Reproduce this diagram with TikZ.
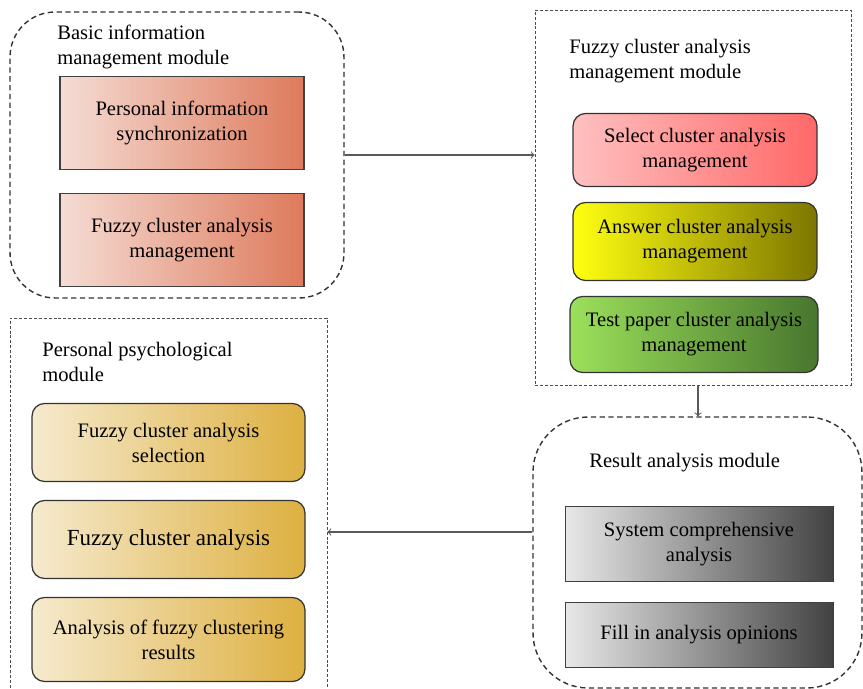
\documentclass[tikz,border=0pt]{standalone}
\usepackage{xcolor}
\usepackage{tikz}
\usepackage{fontspec}
\setmainfont{Liberation Serif}
\usetikzlibrary{shapes.geometric, arrows, calc}

\definecolor{peachL}{RGB}{245,220,212}
\definecolor{peachR}{RGB}{222,122,92}
\definecolor{pinkL}{RGB}{255,192,192}
\definecolor{pinkR}{RGB}{255,104,104}
\definecolor{yelL}{RGB}{255,255,16}
\definecolor{yelR}{RGB}{125,118,0}
\definecolor{grnL}{RGB}{155,224,90}
\definecolor{grnR}{RGB}{72,118,46}
\definecolor{tanL}{RGB}{246,234,206}
\definecolor{tanR}{RGB}{221,176,64}
\definecolor{greyL}{RGB}{232,232,232}
\definecolor{greyR}{RGB}{66,66,66}

\begin{document}
\begin{tikzpicture}[
x=0.02cm, y=-0.02cm,
font=\rmfamily\fontsize{11.7}{14.2}\selectfont,
round module/.style = {draw=black!80, line width=0.8pt, dash pattern=on 3pt off 2pt,
  rounded corners=#1, inner sep=0pt},
square module/.style = {draw=black!70, line width=0.5pt, dash pattern=on 1.7pt off 1.1pt,
  inner sep=0pt},
module label/.style = {anchor=west, align=left, inner sep=0pt},
flat box/.style n args = {2}{draw=black!75, line width=0.6pt, align=center,
  left color=#1, right color=#2, minimum width=4.88cm, minimum height=1.86cm},
round box/.style n args = {2}{draw=black!80, line width=0.7pt, align=center,
  rounded corners=0.25cm, left color=#1, right color=#2},
link/.style = {->, draw=black!65, line width=0.6pt}
]

\useasboundingbox (0,0) rectangle (863,689);

\node (basic) at (177,155) [round module=0.9cm, minimum width=6.68cm, minimum height=5.72cm] {};
\node (fcm) at (693,197.5) [square module, minimum width=6.32cm, minimum height=7.5cm] {};
\node (psych) at (168.5,504) [square module, minimum width=6.34cm, minimum height=7.44cm] {};
\node (result) at (697.5,552.5) [round module=1.1cm, minimum width=6.58cm, minimum height=5.42cm] {};

\node (basiclabel) at (57,47) [module label] {Basic information\\management module};
\node (fcmlabel) at (569,61) [module label] {Fuzzy cluster analysis\\management module};
\node (psychlabel) at (42,362) [module label] {Personal psychological\\module};
\node (resultlabel) at (589,463) [module label] {Result analysis module};

\node (pis) at (182,123) [flat box={peachL}{peachR}] {Personal information\\synchronization};
\node (fcam) at (182,240) [flat box={peachL}{peachR}] {Fuzzy cluster analysis\\management};

\node (sel) at (695,150) [round box={pinkL}{pinkR}, minimum width=4.88cm, minimum height=1.46cm] {Select cluster analysis\\management};
\node (ans) at (695,241.5) [round box={yelL}{yelR}, minimum width=4.88cm, minimum height=1.56cm] {Answer cluster analysis\\management};
\node (tst) at (694,334.5) [round box={grnL}{grnR}, minimum width=4.96cm, minimum height=1.52cm] {Test paper cluster analysis\\management};

\node (fsel) at (168.5,442.5) [round box={tanL}{tanR}, minimum width=5.46cm, minimum height=1.56cm] {Fuzzy cluster analysis\\selection};
\node (fca) at (168.5,539.5) [round box={tanL}{tanR}, minimum width=5.46cm, minimum height=1.56cm, font=\rmfamily\fontsize{13.1}{15}\selectfont] {Fuzzy cluster analysis};
\node (afr) at (168.5,639.5) [round box={tanL}{tanR}, minimum width=5.46cm, minimum height=1.68cm] {Analysis of fuzzy clustering\\results};

\node (sca) at (699,544) [flat box={greyL}{greyR}, minimum width=5.36cm, minimum height=1.5cm] {System comprehensive\\analysis};
\node (fio) at (699,635) [flat box={greyL}{greyR}, minimum width=5.36cm, minimum height=1.3cm] {Fill in analysis opinions};

\coordinate (down) at (698,0);
\coordinate (back) at (0,532);

\draw[link] (basic.east) -- (basic.east -| fcm.west);
\draw[link] (fcm.south -| down) -- (result.north -| down);
\draw[link] (result.west |- back) -- (psych.east |- back);
\end{tikzpicture}
\end{document}
